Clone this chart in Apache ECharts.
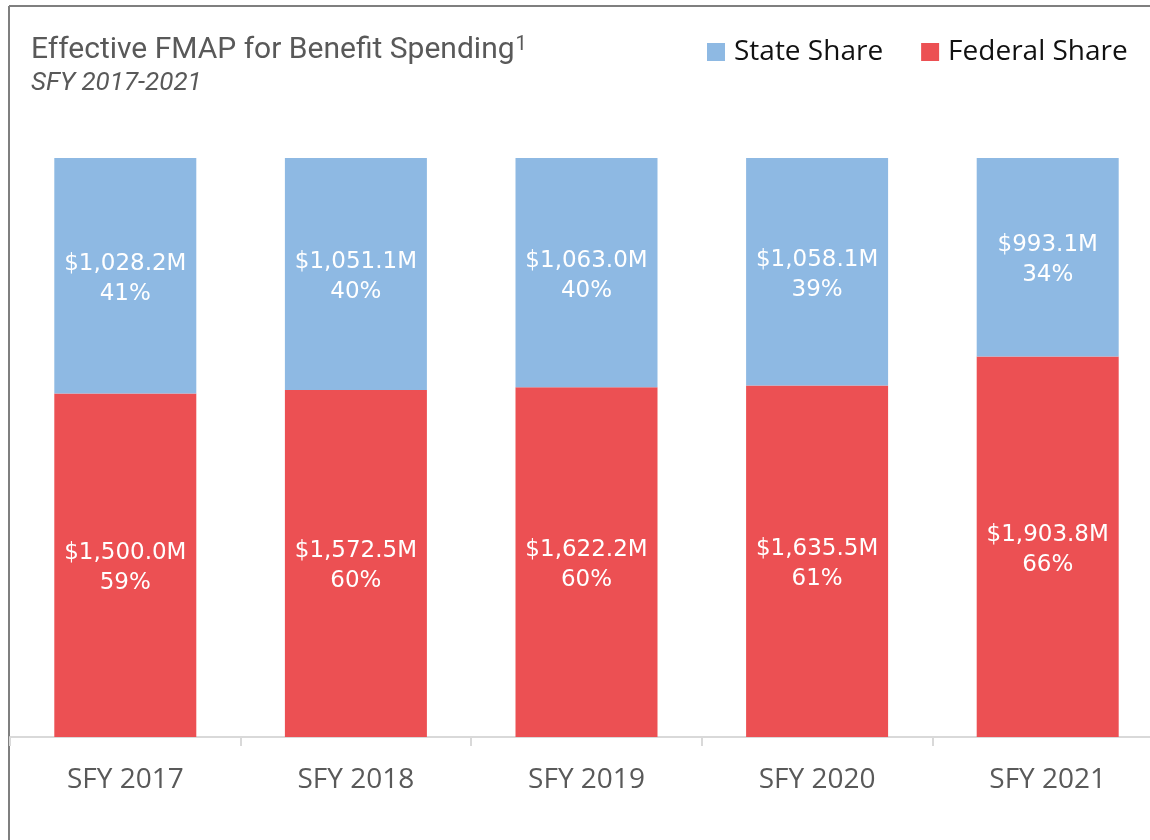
<!DOCTYPE html>
<html>
<head>
<meta charset="utf-8">
<script src="https://cdn.jsdelivr.net/npm/echarts@6/dist/echarts.min.js"></script>
<style>
html,body{margin:0;padding:0;background:#fff;overflow:hidden;width:1150px;height:840px;}
#chart{width:1170px;height:840px;}
</style>
</head>
<body>
<div id="chart"></div>
<script>
const categories = ['SFY 2017', 'SFY 2018', 'SFY 2019', 'SFY 2020', 'SFY 2021'];
const stateValues = [1028.2, 1051.1, 1063.0, 1058.1, 993.1];
const federalValues = [1500.0, 1572.5, 1622.2, 1635.5, 1903.8];
const seriesNames = ['State Share', 'Federal Share'];

const totals = categories.map((c, i) => stateValues[i] + federalValues[i]);
const statePct = stateValues.map((v, i) => v / totals[i] * 100);
const fedPct = federalValues.map((v, i) => v / totals[i] * 100);

function fmtMoney(v) {
  return '$' + v.toLocaleString('en-US', {minimumFractionDigits: 1, maximumFractionDigits: 1}) + 'M';
}
function makeLabel(values) {
  return function (p) {
    return fmtMoney(values[p.dataIndex]) + '\n' + Math.round(p.value) + '%';
  };
}

const labelStyle = {
  show: true,
  position: 'inside',
  color: '#ffffff',
  fontFamily: 'DejaVu Sans',
  fontSize: 23,
  lineHeight: 30,
  offset: [0, 3]
};

const chart = echarts.init(document.getElementById('chart'), null, {renderer: 'canvas'});
chart.setOption({
  animation: false,
  backgroundColor: '#ffffff',
  title: {
    text: 'Effective FMAP for Benefit Spending{sup|1}',
    subtext: 'SFY 2017-2021',
    left: 26,
    top: 30,
    itemGap: 5,
    textStyle: {
      color: '#595959',
      fontFamily: 'Roboto',
      fontSize: 30,
      fontWeight: 'normal',
      rich: {
        sup: {
          color: '#595959',
          fontFamily: 'Roboto',
          fontSize: 20,
          verticalAlign: 'top',
          padding: [0, 0, 10, 1]
        }
      }
    },
    subtextStyle: {
      color: '#595959',
      fontFamily: 'Roboto',
      fontSize: 26,
      fontStyle: 'italic'
    }
  },
  legend: {
    data: seriesNames,
    left: 702,
    top: 33,
    icon: 'rect',
    itemWidth: 18,
    itemHeight: 18,
    itemGap: 38,
    textStyle: {
      color: '#111111',
      fontFamily: 'Open Sans',
      fontSize: 28,
      padding: [0, 0, 0, 4]
    }
  },
  grid: {
    left: 10,
    width: 1153,
    top: 158,
    bottom: 103
  },
  xAxis: {
    type: 'category',
    data: categories,
    axisLine: {lineStyle: {color: '#d9d9d9', width: 2}},
    axisTick: {show: true, length: 9, lineStyle: {color: '#d9d9d9', width: 2}},
    axisLabel: {
      color: '#595959',
      fontFamily: 'Open Sans',
      fontSize: 28,
      margin: 29
    }
  },
  yAxis: {
    type: 'value',
    min: 0,
    max: 100,
    show: false,
    splitLine: {show: false}
  },
  series: [
    {
      name: 'Federal Share',
      type: 'bar',
      stack: 'total',
      barWidth: 142,
      data: fedPct,
      itemStyle: {color: '#EC5053'},
      label: Object.assign({}, labelStyle, {formatter: makeLabel(federalValues)})
    },
    {
      name: 'State Share',
      type: 'bar',
      stack: 'total',
      barWidth: 142,
      data: statePct,
      itemStyle: {color: '#8EB9E3'},
      label: Object.assign({}, labelStyle, {formatter: makeLabel(stateValues)})
    }
  ],
  graphic: [
    {type: 'line', shape: {x1: 9, y1: 6, x2: 1170, y2: 6}, style: {stroke: '#7f7f7f', lineWidth: 2}},
    {type: 'line', shape: {x1: 9, y1: 6, x2: 9, y2: 840}, style: {stroke: '#7f7f7f', lineWidth: 2}}
  ]
});
</script>
</body>
</html>
